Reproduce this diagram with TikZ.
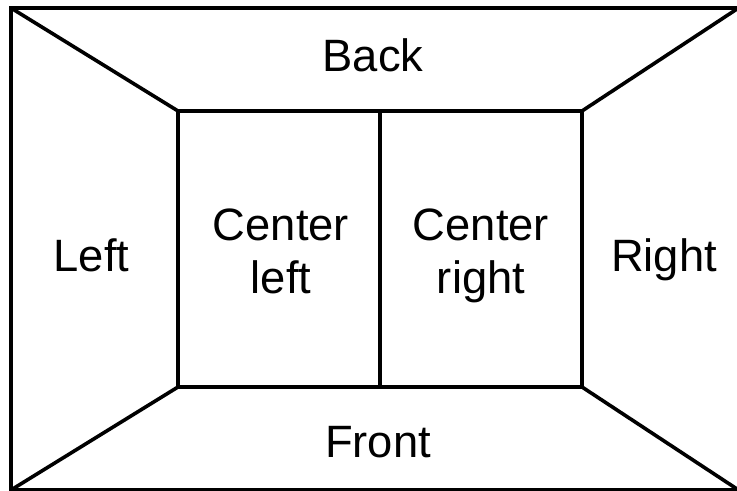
\documentclass[tikz,border=0pt]{standalone}
\usepackage{fontspec}
\setmainfont{Liberation Sans}
\begin{document}
\begin{tikzpicture}[x=0.75pt,y=-0.75pt,
  wall/.style={line width=2.7pt,line join=miter},
  lbl/.style={font=\fontsize{34}{39.75}\selectfont,align=center,inner sep=0pt,anchor=base}]
\useasboundingbox (0,0) rectangle (737,491);
\begin{scope}
\clip (0,0) rectangle (737,491);
\coordinate (o1) at (11,8);
\coordinate (o2) at (738.5,8);
\coordinate (o3) at (738.5,490);
\coordinate (o4) at (11,490);
\coordinate (i1) at (178,111);
\coordinate (i2) at (582,111);
\coordinate (i3) at (582,387);
\coordinate (i4) at (178,387);
\coordinate (m1) at (380,111);
\coordinate (m2) at (380,387);
\draw[wall] (o1) -- (o2) -- (o3) -- (o4) -- cycle;
\draw[wall] (i1) -- (i2) -- (i3) -- (i4) -- cycle;
\draw[wall] (m1) -- (m2);
\draw[wall] (o1) -- (i1);
\draw[wall] (o2) -- (i2);
\draw[wall] (o3) -- (i3);
\draw[wall] (o4) -- (i4);
\end{scope}
\node[lbl] (back) at (373,72) {Back};
\node[lbl] (left) at (91.5,272) {Left};
\node[lbl] (cl) at (281,293) {Center\\left};
\node[lbl] (cr) at (481,293) {Center\\right};
\node[lbl] (right) at (664,271) {Right};
\node[lbl] (front) at (378,457) {Front};
\end{tikzpicture}
\end{document}
